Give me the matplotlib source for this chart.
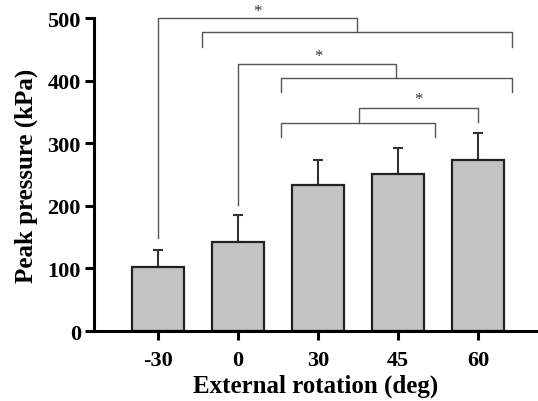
import numpy as np
import matplotlib.pyplot as plt

angles = ["-30", "0", "30", "45", "60"]
means = [102, 142, 233, 251, 274]
sd = [28, 43, 41, 41, 43]

# bracket annotations: (x_left, x_right, y_top, y_left_leg, y_right_leg)
brackets = [
    (0.0, 2.49, 500, 148, 478),
    (0.55, 4.43, 478, 454, 454),
    (1.0, 2.98, 426, 201, 404),
    (1.54, 4.43, 404, 382, 382),
    (2.51, 4.0, 356, 332, 334),
    (1.54, 3.46, 332, 310, 310),
]
stars = [(1.24, 512), (2.0, 440), (3.26, 370)]

plt.rcParams['font.family'] = ['Liberation Serif', 'DejaVu Serif']
plt.rcParams['font.weight'] = 'bold'

fig = plt.figure(figsize=(5.38, 4.02), dpi=100)
ax = fig.add_axes([0.1747, 0.174, 0.8253, 0.7787])

x = np.arange(len(angles))
ax.bar(x, means, width=0.65, color='#c3c3c3', edgecolor='#222222', linewidth=1.6, zorder=2)
ax.errorbar(x, means, yerr=[np.zeros(len(sd)), sd], fmt='none', ecolor='#333333',
            elinewidth=1.5, capsize=3.3, capthick=1.5, zorder=1)

for xl, xr, yt, yl, yr in brackets:
    ax.plot([xl, xl, xr, xr], [yl, yt, yt, yr], color='#555555', lw=1, clip_on=False)
for sx, sy in stars:
    ax.text(sx, sy, '*', ha='center', va='center', fontsize=12, fontweight='normal', color='#333333')

ax.set_xlim(-0.8, 4.75)
ax.set_ylim(0, 500)
ax.set_xticks(x)
ax.set_xticklabels(angles)
ax.set_yticks([0, 100, 200, 300, 400, 500])
ax.spines['top'].set_visible(False)
ax.spines['right'].set_visible(False)
ax.spines['left'].set_linewidth(2.2)
ax.spines['bottom'].set_linewidth(2.2)
ax.tick_params(width=2.2, length=6.5, labelsize=16)
ax.tick_params(axis='x', pad=7)
ax.tick_params(axis='y', pad=3)
ax.set_xlabel('External rotation (deg)', fontsize=18, fontweight='bold', labelpad=3)
ax.set_ylabel('Peak pressure (kPa)', fontsize=18, fontweight='bold', labelpad=7)

fig.savefig('out.png', dpi=100)
